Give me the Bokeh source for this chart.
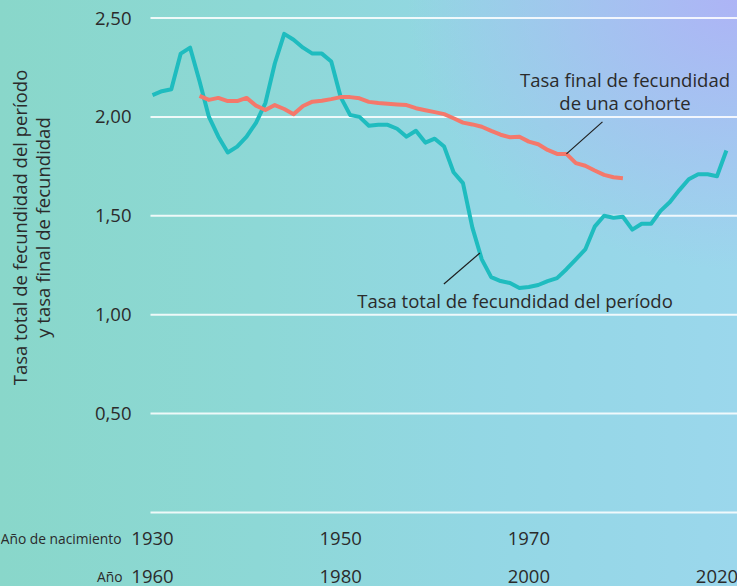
import math
import numpy as np
from bokeh.plotting import figure
from bokeh.models import Range1d, Label, ColumnDataSource, GlobalInlineStyleSheet
from bokeh.embed import file_html
from bokeh.resources import INLINE
from bokeh.core.properties import value

# ---------------- data ----------------
years = list(range(1960, 2022))
period_tfr = [2.11, 2.13, 2.14, 2.32, 2.35, 2.18, 2.00, 1.90, 1.82, 1.85,
              1.90, 1.97, 2.07, 2.27, 2.42, 2.39, 2.35, 2.32, 2.32, 2.28,
              2.10, 2.01, 2.00, 1.955, 1.96, 1.96, 1.94, 1.90, 1.93, 1.87,
              1.89, 1.85, 1.72, 1.665, 1.44, 1.28, 1.19, 1.17, 1.16, 1.135,
              1.14, 1.15, 1.17, 1.185, 1.23, 1.28, 1.33, 1.445, 1.50, 1.49,
              1.495, 1.43, 1.46, 1.46, 1.525, 1.57, 1.63, 1.685, 1.71, 1.71,
              1.70, 1.83]

cohort_birth_years = list(range(1935, 1981))
cohort_tfr = [2.106, 2.086, 2.096, 2.080, 2.080, 2.096, 2.057, 2.035, 2.060, 2.040,
              2.014, 2.055, 2.077, 2.082, 2.090, 2.100, 2.100, 2.094, 2.076, 2.070,
              2.066, 2.063, 2.060, 2.044, 2.034, 2.024, 2.014, 1.993, 1.971, 1.962,
              1.950, 1.929, 1.910, 1.897, 1.900, 1.875, 1.862, 1.833, 1.813, 1.813,
              1.766, 1.753, 1.729, 1.707, 1.695, 1.690]
cohort_offset = 30  # birth year 1930 is aligned with calendar year 1960

y_ticks = [0.5, 1.0, 1.5, 2.0, 2.5]
y_tick_labels = ["0,50", "1,00", "1,50", "2,00", "2,50"]
grid_levels = [0.0, 0.5, 1.0, 1.5, 2.0, 2.5]
year_ticks = [1960, 1980, 2000, 2020]
year_tick_labels = ["1960", "1980", "2000", "2020"]
birth_ticks = [1930, 1950, 1970]
birth_tick_labels = ["1930", "1950", "1970"]

label_cohort = ["Tasa final de fecundidad", "de una cohorte"]
label_period = "Tasa total de fecundidad del período"
y_title = ["Tasa total de fecundidad del período", "y tasa final de fecundidad"]
row_titles = ["Año de nacimiento", "Año"]

# ---------------- styling / layout ----------------
TEAL = "#1fbcbf"
CORAL = "#f4786b"
TEXT = "#2b2b2b"
FONT = "Open Sans"

W, H = 737, 586
PX_PER_YEAR = 9.408          # horizontal scale
PX_PER_UNIT = 197.8          # vertical scale
X0_PX, Y_TOP_PX = 152.0, 17.5  # where 1960 and 2.5 sit on the canvas
x_start = 1960 - X0_PX / PX_PER_YEAR
x_end = x_start + W / PX_PER_YEAR
y_end = 2.5 + Y_TOP_PX / PX_PER_UNIT
y_start = y_end - H / PX_PER_UNIT
BASE_FIX = 8.5  # rendered alphabetic baseline sits this many px lower than requested


def dx(px):
    return px / PX_PER_YEAR


def dy(px):
    return px / PX_PER_UNIT


def fx(px):  # canvas pixel -> data x
    return x_start + px / PX_PER_YEAR


def fy(px):  # canvas pixel (from top) -> data y
    return y_end - px / PX_PER_UNIT


def fbase(px):  # wanted baseline (from top) -> data y
    return fy(px - BASE_FIX)


PLOT_LEFT_PX = 150      # where the horizontal rules begin
YLAB_RIGHT_PX = 131     # right edge of the y tick labels
ROW1_BASE_PX, ROW2_BASE_PX = 546, 584

bg = ("radial-gradient(ellipse 330px 270px at 100% 0%, rgba(174,178,246,0.95), rgba(174,178,246,0) 100%), "
      "linear-gradient(90deg, #89d7ca 0%, #8dd8d6 35%, #93d7e4 65%, #9bd7ec 100%)")

p = figure(width=W, height=H, x_range=Range1d(x_start, x_end), y_range=Range1d(y_start, y_end),
           output_backend="svg", toolbar_location=None,
           x_axis_location=None, y_axis_location=None,
           min_border=0, min_border_left=0, min_border_right=0, min_border_top=0, min_border_bottom=0)
p.background_fill_alpha = 0
p.border_fill_alpha = 0
p.outline_line_color = None
p.grid.visible = False
p.styles = {"background": bg}
p.stylesheets = [GlobalInlineStyleSheet(css="html{min-height:100%;background:" + bg + ";background-attachment:fixed;}")]

# horizontal rules
grid_src = ColumnDataSource(dict(x0=[fx(PLOT_LEFT_PX)] * len(grid_levels),
                                 x1=[x_end] * len(grid_levels),
                                 y=grid_levels))
p.segment(x0="x0", y0="y", x1="x1", y1="y", source=grid_src,
          line_color="white", line_width=2, line_alpha=0.85)

# y tick labels
ysrc = ColumnDataSource(dict(x=[fx(YLAB_RIGHT_PX)] * len(y_ticks), y=y_ticks, t=y_tick_labels))
p.text(x="x", y="y", text="t", source=ysrc, text_font=value(FONT), text_font_size="18.5px",
       text_color=TEXT, text_align="right", text_baseline="middle")

# x tick labels: row 1 (birth year of cohort), row 2 (calendar year)
r1 = ColumnDataSource(dict(x=[b + cohort_offset for b in birth_ticks],
                           y=[fbase(ROW1_BASE_PX)] * len(birth_ticks), t=birth_tick_labels))
r2 = ColumnDataSource(dict(x=year_ticks, y=[fbase(ROW2_BASE_PX)] * len(year_ticks), t=year_tick_labels))
for src in (r1, r2):
    p.text(x="x", y="y", text="t", source=src, text_font=value(FONT), text_font_size="18.5px",
           text_color=TEXT, text_align="center", text_baseline="alphabetic")

# series
p.line(years, period_tfr, line_color=TEAL, line_width=4, line_join="round")
p.line([b + cohort_offset for b in cohort_birth_years], cohort_tfr,
       line_color=CORAL, line_width=4, line_join="round")

# leader lines anchored on the series
c_ax = 1974 + cohort_offset
c_ay = cohort_tfr[cohort_birth_years.index(1974)]
p_ax = 1994.8
p_ay = float(np.interp(p_ax, years, period_tfr))
p.segment(x0=[c_ax, p_ax], y0=[c_ay, p_ay],
          x1=[c_ax + dx(36), p_ax - dx(36)], y1=[c_ay + dy(32), p_ay - dy(31)],
          line_color="#1e1e1e", line_width=1.2)

# annotation texts
common = dict(text_font=FONT, text_color=TEXT, text_font_size="18.5px", text_align="center",
              text_baseline="alphabetic")
p.add_layout(Label(x=fx(624.5), y=fbase(87.3), text=label_cohort[0], **common))
p.add_layout(Label(x=fx(624.5), y=fbase(110.7), text=label_cohort[1], **common))
p.add_layout(Label(x=fx(514.5), y=fbase(308.3), text=label_period, **common))

# y title (two rotated, centred lines); baseline fix acts horizontally here
p.add_layout(Label(x=fx(27 - BASE_FIX), y=fy(227), text=y_title[0], angle=math.pi / 2, **common))
p.add_layout(Label(x=fx(50 - BASE_FIX), y=fy(227), text=y_title[1], angle=math.pi / 2, **common))

# row titles for the two year scales
rcommon = dict(text_font=FONT, text_color=TEXT, text_font_size="13.8px", text_align="right",
               text_baseline="alphabetic")
p.add_layout(Label(x=fx(121), y=fbase(ROW1_BASE_PX), text=row_titles[0], **rcommon))
p.add_layout(Label(x=fx(122), y=fbase(ROW2_BASE_PX), text=row_titles[1], **rcommon))

open("out.html", "w").write(file_html(p, INLINE))
